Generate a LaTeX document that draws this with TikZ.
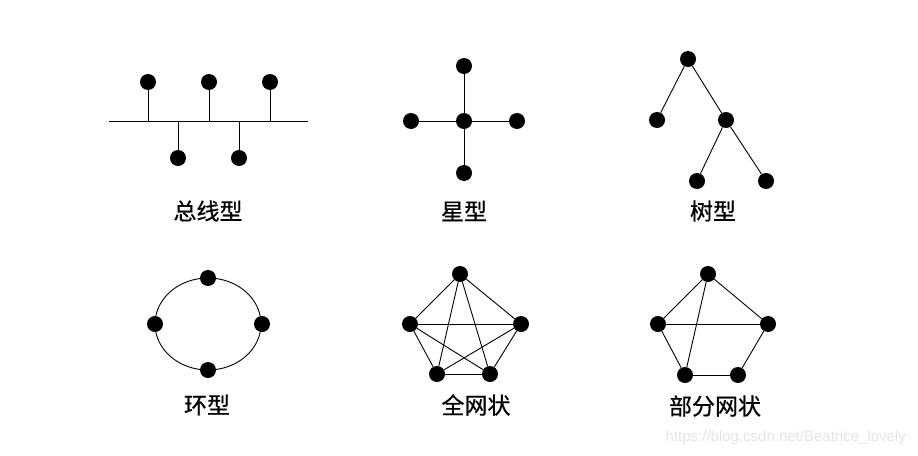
\documentclass[tikz,border=0pt]{standalone}
\usepackage{fontspec}
\newfontfamily\cjk[FakeBold=0.6]{Noto Sans CJK SC}
\newfontfamily\wm{Liberation Sans}
\begin{document}
\begin{tikzpicture}[x=1pt,y=-1pt,
  dot/.style={circle,fill=black,inner sep=0pt,minimum size=16pt},
  lbl/.style={font=\cjk\fontsize{23}{26}\selectfont,inner sep=0pt},
  link/.style={draw=black,line width=0.9pt}]
\useasboundingbox[fill=white] (0,0) rectangle (918,455);
% bus
\coordinate (bl) at (109,121);
\coordinate (br) at (308,121);
\node[dot] (b1) at (148,82) {};
\node[dot] (b2) at (209,82) {};
\node[dot] (b3) at (270,82) {};
\node[dot] (b4) at (178,158) {};
\node[dot] (b5) at (239,158) {};
\draw[link] (bl) -- (br);
\foreach \n in {b1,b2,b3,b4,b5} \draw[link] (\n) -- (\n |- bl);
\node[lbl] (t1) at (208,211) {总线型};
% star
\node[dot] (sc) at (464,121) {};
\node[dot] (st) at (464,66) {};
\node[dot] (sb) at (464,173) {};
\node[dot] (sl) at (411,121) {};
\node[dot] (sr) at (517,121) {};
\foreach \n in {st,sb,sl,sr} \draw[link] (sc) -- (\n);
\node[lbl] (t2) at (464,211) {星型};
% tree
\node[dot] (tr) at (688,59) {};
\node[dot] (tl) at (657,120) {};
\node[dot] (tm) at (726,120) {};
\node[dot] (tc1) at (697,181) {};
\node[dot] (tc2) at (766,181) {};
\draw[link] (tr) -- (tl);
\draw[link] (tr) -- (tm);
\draw[link] (tm) -- (tc1);
\draw[link] (tm) -- (tc2);
\node[lbl] (t3) at (713,211) {树型};
% ring
\draw[link] (208,324) ellipse [x radius=53, y radius=46];
\node[dot] (rt) at (208,278) {};
\node[dot] (rb) at (208,370) {};
\node[dot] (rl) at (155,324) {};
\node[dot] (rr) at (262,324) {};
\node[lbl] (t4) at (207,405) {环型};
% full mesh
\node[dot] (f1) at (460,274) {};
\node[dot] (f2) at (410,324) {};
\node[dot] (f3) at (521,324) {};
\node[dot] (f4) at (437,374) {};
\node[dot] (f5) at (490,374) {};
\foreach \a/\b in {f1/f2,f1/f3,f1/f4,f1/f5,f2/f3,f2/f4,f2/f5,f3/f4,f3/f5,f4/f5} \draw[link] (\a) -- (\b);
\node[lbl] (t5) at (476,405) {全网状};
% partial mesh
\node[dot] (p1) at (708,274) {};
\node[dot] (p2) at (658,324) {};
\node[dot] (p3) at (768,324) {};
\node[dot] (p4) at (685,375) {};
\node[dot] (p5) at (738,375) {};
\foreach \a/\b in {p1/p2,p1/p3,p1/p4,p2/p3,p2/p4,p4/p5,p5/p3} \draw[link] (\a) -- (\b);
\node[lbl] (t6) at (715,406) {部分网状};
% watermark
\node[font=\wm\fontsize{15}{17}\selectfont,text=black!10,inner sep=0pt,anchor=east] (wm) at (906,438) {https://blog.csdn.net/Beatrice\_lovely};
\end{tikzpicture}
\end{document}
